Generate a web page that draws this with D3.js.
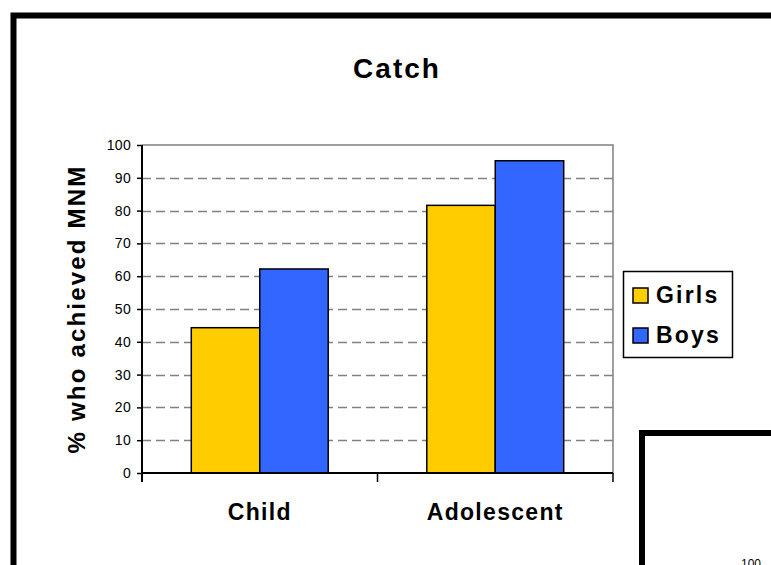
<!DOCTYPE html>
<html>
<head>
<meta charset="utf-8">
<script src="https://cdn.jsdelivr.net/npm/d3@7"></script>
<style>
  html, body { margin: 0; padding: 0; background: #fff; }
  svg { display: block; font-family: "Liberation Sans", Arial, sans-serif; }
</style>
</head>
<body>
<svg id="chart" width="771" height="565"></svg>
<script>
// Categories, series and values
const categories = ["Child", "Adolescent"];
const seriesNames = ["Girls", "Boys"];
const girls = [44.3, 81.6];
const boys = [62.2, 95.2];
const yTicks = [0, 10, 20, 30, 40, 50, 60, 70, 80, 90, 100];
const seriesColors = ["#FFCC00", "#3366FF"];

const svg = d3.select("#chart");
const W = 771, H = 565;

svg.append("rect").attr("width", W).attr("height", H).attr("fill", "#fff");

// Outer chart frame (thick black border running off the right and bottom)
svg.append("path")
  .attr("d", `M13.5,${H + 10} V15.5 H${W + 10}`)
  .attr("fill", "none").attr("stroke", "#000").attr("stroke-width", 6);

// Plot geometry
const plot = { left: 142, right: 613, top: 145, bottom: 473 };

const x0 = d3.scaleBand().domain(categories)
  .range([plot.left, plot.right]).paddingInner(0).paddingOuter(0);
const x1 = d3.scaleBand().domain(seriesNames)
  .range([0, x0.bandwidth()]).paddingInner(0).paddingOuter(0.72);
const y = d3.scaleLinear().domain([0, 100]).range([plot.bottom, plot.top]);

// Dashed gridlines
svg.append("g").selectAll("line")
  .data(yTicks.filter(t => t > 0 && t < 100))
  .join("line")
  .attr("x1", plot.left).attr("x2", plot.right)
  .attr("y1", d => Math.round(y(d)) + 0.5).attr("y2", d => Math.round(y(d)) + 0.5)
  .attr("stroke", "#808080").attr("stroke-width", 1.5)
  .attr("stroke-dasharray", "9,5");

// Plot area border (top and right)
svg.append("path")
  .attr("d", `M${plot.left},${y(100)} H${plot.right} V${plot.bottom}`)
  .attr("fill", "none").attr("stroke", "#808080").attr("stroke-width", 1.5);

// Bars
const rows = categories.map((c, i) => ({ cat: c, vals: [girls[i], boys[i]] }));
const groups = svg.append("g").selectAll("g").data(rows).join("g")
  .attr("transform", d => `translate(${x0(d.cat)},0)`);
groups.selectAll("rect")
  .data(d => d.vals.map((v, j) => ({ name: seriesNames[j], v, j })))
  .join("rect")
  .attr("x", d => x1(d.name))
  .attr("width", x1.bandwidth())
  .attr("y", d => y(d.v))
  .attr("height", d => y(0) - y(d.v))
  .attr("fill", d => seriesColors[d.j])
  .attr("stroke", "#000").attr("stroke-width", 1.5);

// Y axis
const yAxis = d3.axisLeft(y).tickValues(yTicks).tickSize(5).tickPadding(6);
const gy = svg.append("g").attr("transform", `translate(${plot.left},0)`).call(yAxis);
gy.select(".domain").attr("stroke", "#000").attr("stroke-width", 2)
  .attr("d", `M0,${plot.top}V${plot.bottom + 9}`);
gy.selectAll(".tick line").attr("stroke", "#000").attr("stroke-width", 1.5);
gy.selectAll(".tick text")
  .attr("font-size", 14).attr("fill", "#000")
  .attr("letter-spacing", 0.3)
  .attr("font-family", "'Liberation Sans', Arial, sans-serif");

// X axis with boundary ticks between categories
const gx = svg.append("g").attr("transform", `translate(0,${plot.bottom})`);
gx.append("line").attr("x1", plot.left).attr("x2", plot.right)
  .attr("stroke", "#000").attr("stroke-width", 2);
gx.selectAll("line.tk")
  .data(categories.map(c => x0(c)).concat([plot.right]))
  .join("line").attr("class", "tk")
  .attr("x1", d => d).attr("x2", d => d)
  .attr("y1", 0).attr("y2", 9)
  .attr("stroke", "#000").attr("stroke-width", 1.5);
gx.selectAll("text.cat").data(categories).join("text").attr("class", "cat")
  .attr("x", d => x0(d) + x0.bandwidth() / 2)
  .attr("y", 47)
  .attr("text-anchor", "middle")
  .attr("font-size", 23).attr("font-weight", "bold")
  .attr("letter-spacing", 1.3)
  .text(d => d);

// Title
svg.append("text")
  .attr("x", 397).attr("y", 78)
  .attr("text-anchor", "middle")
  .attr("font-size", 28).attr("font-weight", "bold")
  .attr("letter-spacing", 2)
  .text("Catch");

// Y axis title
svg.append("text")
  .attr("transform", `translate(85,${(plot.top + plot.bottom) / 2}) rotate(-90)`)
  .attr("text-anchor", "middle")
  .attr("font-size", 24).attr("font-weight", "bold")
  .attr("letter-spacing", 2.2)
  .text("% who achieved MNM");

// Legend
const lg = svg.append("g").attr("transform", "translate(623,271)");
lg.append("rect").attr("x", 0.5).attr("y", 0.5).attr("width", 109).attr("height", 86)
  .attr("fill", "#fff").attr("stroke", "#000").attr("stroke-width", 1.5);
const items = lg.selectAll("g.item").data(seriesNames).join("g").attr("class", "item")
  .attr("transform", (d, i) => `translate(10,${17 + i * 40})`);
items.append("rect").attr("width", 15).attr("height", 15)
  .attr("fill", (d, i) => seriesColors[i]).attr("stroke", "#000").attr("stroke-width", 1.5);
items.append("text").attr("x", 23).attr("y", 15)
  .attr("font-size", 23).attr("font-weight", "bold")
  .attr("letter-spacing", 2.2)
  .text(d => d);

// Neighbouring chart frame in the lower right
const g2 = svg.append("g");
g2.append("path")
  .attr("d", `M642,${H + 10} V433 H${W + 10}`)
  .attr("fill", "#fff").attr("stroke", "#000").attr("stroke-width", 6);
g2.append("text").attr("x", 751).attr("y", 568)
  .attr("text-anchor", "middle").attr("font-size", 12).text("100");
</script>
</body>
</html>
